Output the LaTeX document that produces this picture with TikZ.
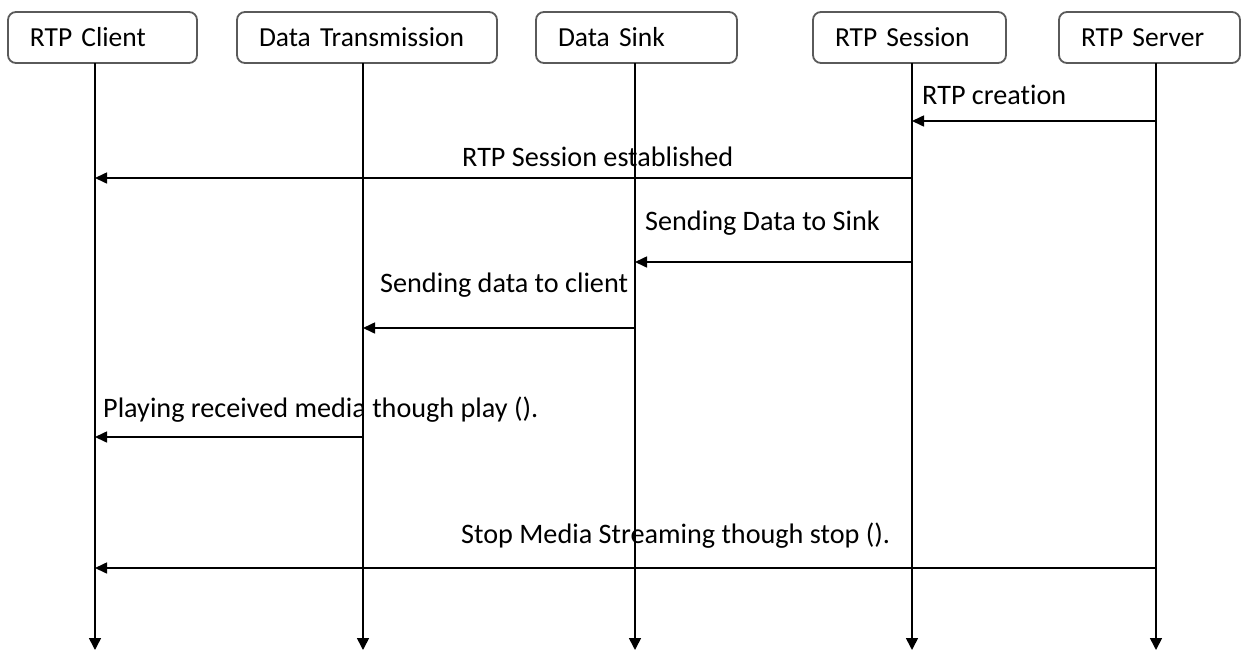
\documentclass[tikz,border=0pt]{standalone}
\usepackage{fontspec}
\setmainfont{Carlito}[Ligatures=NoCommon]
\usetikzlibrary{arrows.meta}
\definecolor{boxgray}{HTML}{5A5A5A}
\tikzset{
  actor/.style={draw=boxgray, line width=1.8pt, rounded corners=8pt, fill=white,
    minimum height=51pt, inner ysep=0pt, inner xsep=22pt, align=left,
    font=\fontsize{27.5}{30}\selectfont, anchor=center},
  life/.style={line width=1.6pt, -{Triangle[length=12pt,width=12pt]}},
  msg/.style={line width=1.6pt, -{Triangle[length=12pt,width=11pt]}},
  lbl/.style={anchor=base west, inner sep=0pt, font=\fontsize{28.2}{30}\selectfont}
}
\begin{document}
\begin{tikzpicture}[x=1pt,y=-1pt]
\useasboundingbox (0,0) rectangle (1243,651);
% actors
\node[actor, text width=145pt] (client) at (102.5,37.5) {RTP Client};
\node[actor, text width=216pt] (trans) at (367,37.5) {Data Transmission};
\node[actor, text width=157pt] (sink) at (636.5,37.5) {Data Sink};
\node[actor, text width=149pt] (sess) at (909.5,37.5) {RTP Session};
\node[actor, text width=137pt] (serv) at (1149.5,37.5) {RTP Server};
% lifeline ends
\coordinate (cT) at (95,63);   \coordinate (cB) at (95,650);
\coordinate (tT) at (363,63);  \coordinate (tB) at (363,650);
\coordinate (kT) at (635,63);  \coordinate (kB) at (635,650);
\coordinate (sT) at (912,63);  \coordinate (sB) at (912,650);
\coordinate (vT) at (1156,63); \coordinate (vB) at (1156,650);
\draw[life] (cT) -- (cB);
\draw[life] (tT) -- (tB);
\draw[life] (kT) -- (kB);
\draw[life] (sT) -- (sB);
\draw[life] (vT) -- (vB);
% messages
\draw[msg] (vT |- 0,121) -- (sT |- 0,121);
\node[lbl] (m1) at (922,104) {RTP creation};
\draw[msg] (sT |- 0,178) -- (cT |- 0,178);
\node[lbl] (m2) at (462,166) {RTP Session established};
\draw[msg] (sT |- 0,262) -- (kT |- 0,262);
\node[lbl] (m3) at (645,230) {Sending Data to Sink};
\draw[msg] (kT |- 0,328) -- (tT |- 0,328);
\node[lbl] (m4) at (380,292) {Sending data to client};
\draw[msg] (tT |- 0,437) -- (cT |- 0,437);
\node[lbl] (m5) at (103,417) {Playing received media though play ().};
\draw[msg] (vT |- 0,568) -- (cT |- 0,568);
\node[lbl] (m6) at (461,543) {Stop Media Streaming though stop ().};
\end{tikzpicture}
\end{document}
